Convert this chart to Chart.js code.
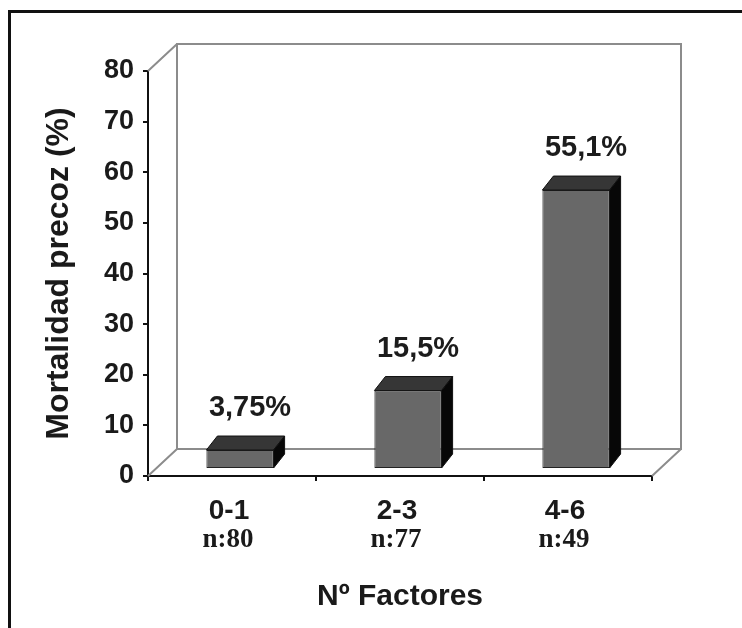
<!DOCTYPE html>
<html>
<head>
<meta charset="utf-8">
<script src="https://cdn.jsdelivr.net/npm/chart.js@4.4.1/dist/chart.umd.min.js"></script>
<style>
  html, body { margin: 0; padding: 0; background: #fff; overflow: hidden; }
  #wrap { position: relative; width: 742px; height: 628px; }
  #frame { position: absolute; left: 8px; top: 10px; width: 780px; height: 660px;
           border-left: 3px solid #111; border-top: 3px solid #111; }
  canvas { position: absolute; left: 0; top: 0; }
</style>
</head>
<body>
<div id="wrap">
  <div id="frame"></div>
  <canvas id="chart" width="742" height="628"></canvas>
</div>
<script>
// data
const categories = ['0-1', '2-3', '4-6'];
const sampleSizes = ['n:80', 'n:77', 'n:49'];
const mortality = [3.75, 15.5, 55.1];

const SANS = "'Liberation Sans', Arial, sans-serif";
const SERIF = "'Liberation Serif', 'Times New Roman', serif";

// depth of the 3d box and of the bars
const WALL_DX = 29, WALL_DY = -27;
const BAR_OX = 8, BAR_OY = -7, BAR_DX = 11, BAR_DY = -14;

const box3d = {
  id: 'box3d',
  beforeDatasetsDraw(chart) {
    const { ctx, chartArea: a } = chart;
    ctx.save();
    ctx.strokeStyle = '#8c8c8c';
    ctx.lineWidth = 2;
    ctx.beginPath();
    ctx.rect(a.left + WALL_DX, a.top + WALL_DY, a.right - a.left, a.bottom - a.top);
    ctx.moveTo(a.left, a.top);
    ctx.lineTo(a.left + WALL_DX, a.top + WALL_DY);
    ctx.moveTo(a.left, a.bottom);
    ctx.lineTo(a.left + WALL_DX, a.bottom + WALL_DY);
    ctx.moveTo(a.right, a.bottom);
    ctx.lineTo(a.right + WALL_DX, a.bottom + WALL_DY);
    ctx.stroke();
    ctx.restore();
    // front faces are drawn by chart.js, shifted into the box
    ctx.save();
    ctx.translate(BAR_OX, BAR_OY);
  },
  afterDatasetsDraw(chart) {
    const ctx = chart.ctx;
    ctx.restore();
    const meta = chart.getDatasetMeta(0);
    meta.data.forEach((el, i) => {
      const { x, y, base, width } = el.getProps(['x', 'y', 'base', 'width'], true);
      const x0 = x - width / 2 + BAR_OX, x1 = x + width / 2 + BAR_OX;
      const yt = y + BAR_OY, yb = base + BAR_OY;
      ctx.save();
      ctx.lineWidth = 1;
      ctx.strokeStyle = '#111';
      // top face
      ctx.fillStyle = '#363636';
      ctx.beginPath();
      ctx.moveTo(x0, yt);
      ctx.lineTo(x1, yt);
      ctx.lineTo(x1 + BAR_DX, yt + BAR_DY);
      ctx.lineTo(x0 + BAR_DX, yt + BAR_DY);
      ctx.closePath();
      ctx.fill();
      ctx.stroke();
      // side face
      ctx.fillStyle = '#070707';
      ctx.beginPath();
      ctx.moveTo(x1, yt);
      ctx.lineTo(x1 + BAR_DX, yt + BAR_DY);
      ctx.lineTo(x1 + BAR_DX, yb + BAR_DY);
      ctx.lineTo(x1, yb);
      ctx.closePath();
      ctx.fill();
      ctx.stroke();
      // value label
      ctx.fillStyle = '#1c1c1c';
      ctx.font = 'bold 29px ' + SANS;
      ctx.textAlign = 'center';
      ctx.textBaseline = 'middle';
      const txt = String(mortality[i]).replace('.', ',') + '%';
      ctx.fillText(txt, x + 18, yt - 42);
      ctx.restore();
    });
  }
};

new Chart(document.getElementById('chart'), {
  type: 'bar',
  data: {
    labels: categories,
    datasets: [{
      data: mortality,
      backgroundColor: '#686868',
      borderColor: '#222',
      borderWidth: 1,
      borderSkipped: false,
      barPercentage: 0.8,
      categoryPercentage: 0.5
    }]
  },
  options: {
    responsive: false,
    animation: false,
    layout: { padding: { top: 71, right: 90, bottom: 0, left: 0 } },
    plugins: { legend: { display: false }, tooltip: { enabled: false } },
    scales: {
      y: {
        min: 0,
        max: 80,
        afterFit(scale) { scale.width = 148; },
        ticks: { stepSize: 10, padding: 9, color: '#1a1a1a', font: { family: SANS, size: 27, weight: 'bold' } },
        grid: { drawOnChartArea: false, tickLength: 5, color: '#111', lineWidth: 2 },
        border: { color: '#111', width: 2 },
        title: {
          display: true,
          text: 'Mortalidad precoz (%)',
          color: '#1a1a1a',
          font: { family: SANS, size: 32, weight: 'bold' },
          padding: { top: 40, bottom: 0 }
        }
      },
      x: {
        weight: 0,
        afterFit(scale) { scale.height = 44; },
        ticks: { padding: 13, labelOffset: -3, color: '#1a1a1a', font: { family: SANS, size: 28, weight: 'bold' } },
        grid: { drawOnChartArea: false, tickLength: 5, color: '#111', lineWidth: 2 },
        border: { color: '#111', width: 2 }
      },
      x2: {
        type: 'category',
        position: 'bottom',
        weight: 1,
        labels: sampleSizes,
        afterFit(scale) { scale.height = 108; },
        ticks: { padding: 4, labelOffset: -4, color: '#1a1a1a', font: { family: SERIF, size: 27, weight: 'bold' } },
        grid: { display: false, drawTicks: false },
        border: { display: false },
        title: {
          display: true,
          text: 'Nº Factores',
          color: '#1a1a1a',
          font: { family: SANS, size: 30, weight: 'bold' },
          padding: { top: 0, bottom: 13 }
        }
      }
    }
  },
  plugins: [box3d]
});
</script>
</body>
</html>
